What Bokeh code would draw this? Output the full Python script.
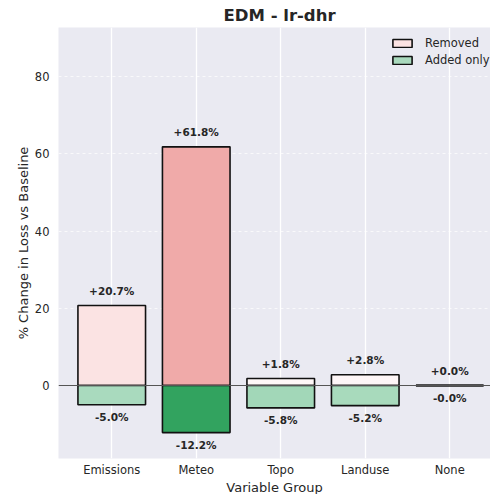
from bokeh.plotting import figure
from bokeh.models import ColumnDataSource, FixedTicker, Span, Legend, LegendItem, Range1d
from bokeh.core.properties import value
from bokeh.embed import file_html
from bokeh.resources import INLINE

categories = ["Emissions", "Meteo", "Topo", "Landuse", "None"]
removed = [20.7, 61.8, 1.8, 2.8, 0.0]
added = [-5.0, -12.2, -5.8, -5.2, -0.0]
removed_colors = ["#FBE3E3", "#F0AAA9", "#FFF8F8", "#FEF6F7", "#FFFFFF"]
added_colors = ["#A9DABE", "#32A35F", "#A2D7B8", "#A8DABC", "#FFFFFF"]
y_ticks = [0, 20, 40, 60, 80]

xs = list(range(len(categories)))
rem_labels = ["%+.1f%%" % v for v in removed]
add_labels = ["-%.1f%%" % abs(v) for v in added]

src = ColumnDataSource(dict(x=xs, rem=removed, add=added, rc=removed_colors,
                            ac=added_colors, rl=rem_labels, al=add_labels))

FONT = "DejaVu Sans"
TXT = "#262626"
FRAME_H = 431
FRAME_W = 432

p = figure(frame_width=FRAME_W, frame_height=FRAME_H, output_backend="svg", toolbar_location=None,
           x_range=Range1d(-0.63, -0.63 + FRAME_W / 84.5), y_range=Range1d(-18.9, 92.7),
           min_border_left=58, min_border_right=0, min_border_top=27, min_border_bottom=34,
           background_fill_color="#EAEAF2", border_fill_color="white",
           title="EDM - lr-dhr")
p.outline_line_color = None
p.title.align = "left"
p.title.offset = 165
p.title.standoff = 6
p.title.text_font = FONT
p.title.text_font_size = "16.5px"
p.title.text_font_style = "bold"
p.title.text_color = TXT

# grids
p.xgrid.ticker = FixedTicker(ticks=xs)
p.xgrid.grid_line_color = "white"
p.xgrid.grid_line_width = 1.3
p.ygrid.ticker = FixedTicker(ticks=y_ticks)
p.ygrid.grid_line_color = "white"
p.ygrid.grid_line_width = 1
p.ygrid.grid_line_alpha = 0.7
p.ygrid.grid_line_dash = "3 3"

# axes
for ax in (p.xaxis[0], p.yaxis[0]):
    ax.axis_line_color = None
    ax.major_tick_line_color = None
    ax.minor_tick_line_color = None
    ax.major_tick_out = 0
    ax.major_tick_in = 0
    ax.minor_tick_out = 0
    ax.minor_tick_in = 0
    ax.major_label_text_font = FONT
    ax.major_label_text_font_size = "11.5px"
    ax.major_label_text_color = TXT
    ax.axis_label_text_font = FONT
    ax.axis_label_text_font_size = "13px"
    ax.axis_label_text_font_style = "normal"
    ax.axis_label_text_color = TXT

p.xaxis.ticker = FixedTicker(ticks=xs)
p.xaxis.major_label_overrides = {i: c for i, c in zip(xs, categories)}
p.xaxis.major_label_standoff = 4
p.xaxis.axis_label = "Variable Group"
p.xaxis.axis_label_standoff = 0

p.yaxis.ticker = FixedTicker(ticks=y_ticks)
p.yaxis.major_label_standoff = 9
p.yaxis.axis_label = "% Change in Loss vs Baseline"
p.yaxis.axis_label_standoff = 1

# bars
r1 = p.vbar(x="x", top="rem", bottom=0, width=0.8, source=src, fill_color="rc",
            line_color="#111111", line_width=1.6)
r2 = p.vbar(x="x", top="add", bottom=0, width=0.8, source=src, fill_color="ac",
            line_color="#111111", line_width=1.6)

p.add_layout(Span(location=0, dimension="width", line_color="#555555", line_width=1))

# None bar (zero height) drawn as a line on top
p.vbar(x=[xs[-1]], top=[removed[-1]], bottom=[added[-1]], width=0.8,
       fill_alpha=0, line_color="#111111", line_width=1.8)

# value labels
p.text(x="x", y="rem", text="rl", source=src, text_align="center", text_baseline="bottom",
       y_offset=-9, text_font=value(FONT), text_font_style="bold",
       text_font_size="10.5px", text_color=TXT)
p.text(x="x", y="add", text="al", source=src, text_align="center", text_baseline="top",
       y_offset=6, text_font=value(FONT), text_font_style="bold",
       text_font_size="10.5px", text_color=TXT)

# legend (swatches use the light shades)
lr = p.vbar(x=[0], top=[0], width=0.8, fill_color="#FCE3E3", line_color="#111111",
            line_width=1.6, visible=False)
la = p.vbar(x=[0], top=[0], width=0.8, fill_color="#A9D9BD", line_color="#111111",
            line_width=1.6, visible=False)
legend = Legend(items=[LegendItem(label="Removed", renderers=[lr]),
                       LegendItem(label="Added only", renderers=[la])],
                location=(327, FRAME_H - 45), orientation="vertical")
legend.background_fill_alpha = 0
legend.border_line_alpha = 0
legend.padding = 5
legend.margin = 0
legend.spacing = 3
legend.glyph_width = 24
legend.glyph_height = 10
legend.label_standoff = 11
legend.label_height = 14
legend.label_text_font = FONT
legend.label_text_font_size = "11.5px"
legend.label_text_color = TXT
p.add_layout(legend)

open("out.html", "w").write(file_html(p, INLINE))
